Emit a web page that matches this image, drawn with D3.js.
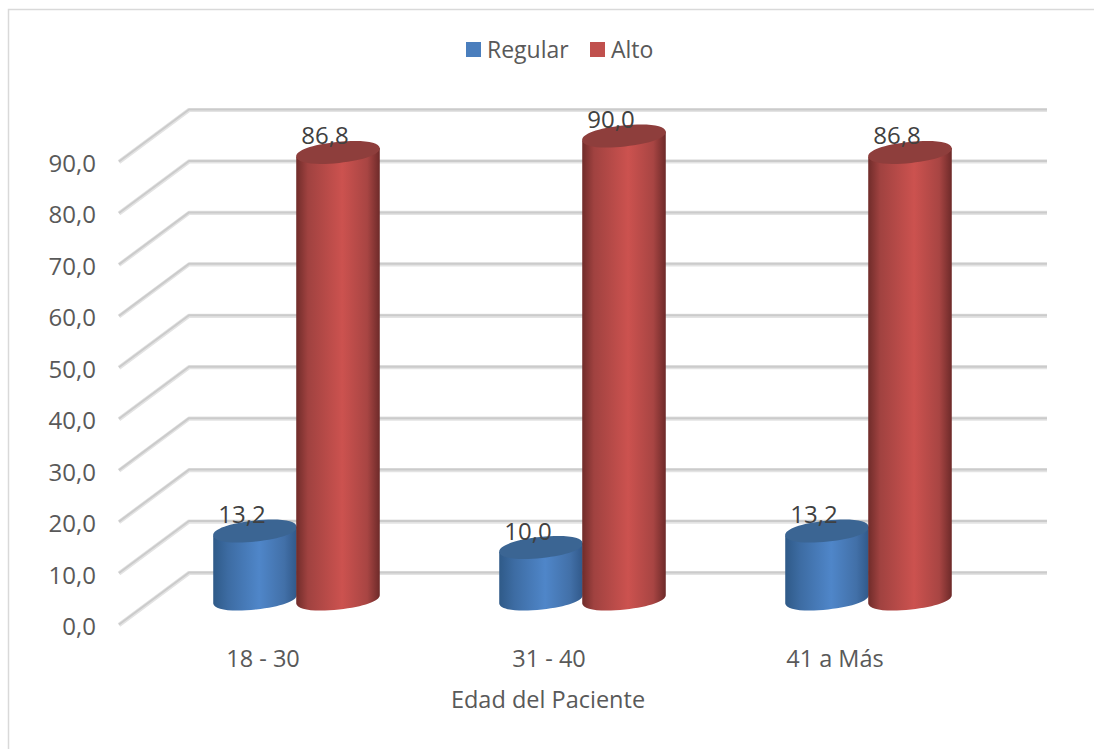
<!DOCTYPE html>
<html lang="es">
<head>
<meta charset="utf-8">
<script src="https://cdn.jsdelivr.net/npm/d3@7/dist/d3.min.js"></script>
<style>
  html, body { margin: 0; padding: 0; background: #fff; }
  svg { display: block; }
  text { font-family: "Open Sans", sans-serif; }
</style>
</head>
<body>
<div id="chart"></div>
<script>
const categories = ["18 - 30", "31 - 40", "41 a Más"];
const seriesNames = ["Regular", "Alto"];
const regularValues = [13.2, 10.0, 13.2];
const altoValues = [86.8, 90.0, 86.8];
const yTicks = [0, 10, 20, 30, 40, 50, 60, 70, 80, 90];
const axisTitle = "Edad del Paciente";

const width = 1094, height = 749;
const comma = v => v.toFixed(1).replace(".", ",");

const svg = d3.select("#chart").append("svg")
  .attr("width", width).attr("height", height);

// Colour ramps that give the columns their rounded look
const ramps = {
  Regular: { top: "#3b6593", key: "#4a7ebd", stops: [[0, "#2f5a88"], [0.18, "#3d6ca3"], [0.55, "#4f86c9"], [0.85, "#4270a8"], [1, "#31598a"]] },
  Alto: { top: "#8e3e3c", key: "#c0504d", stops: [[0, "#702c2a"], [0.14, "#a04240"], [0.55, "#cc524f"], [0.85, "#a84543"], [1, "#6d2a29"]] }
};
const defs = svg.append("defs");
seriesNames.forEach(name => {
  defs.append("linearGradient").attr("id", "shade-" + name)
    .attr("x1", "0").attr("x2", "1").attr("y1", "0").attr("y2", "0")
    .selectAll("stop").data(ramps[name].stops).join("stop")
    .attr("offset", d => d[0]).attr("stop-color", d => d[1]);
});

// Outer frame: only the top and left edges fall inside the page
svg.append("path").attr("d", `M8.5,${height}V9.5H${width}`)
  .attr("fill", "none").attr("stroke", "#d9d9d9").attr("stroke-width", 1.5);

// Scales: y is measured on the front edge of the floor, depth shifts it back
const y = d3.scaleLinear().domain([0, 90]).range([625, 162]);
const depth = { x: 70, y: 52 };
const plotLeft = 119, plotRight = 1047;
const x = d3.scaleBand().domain(categories).range([153.5, 1011.5]);
const xSeries = d3.scaleBand().domain(seriesNames).range([-83, 83]);

// Walls: each gridline runs up the side wall, then along the back wall
const gridPath = v => `M${plotLeft},${y(v)}L${plotLeft + depth.x},${y(v) - depth.y}H${plotRight}`;
const grid = svg.append("g").attr("fill", "none").attr("stroke-linejoin", "round");
grid.selectAll(".halo").data(yTicks).join("path").attr("class", "halo")
  .attr("d", gridPath).attr("stroke", "#e3e3e3").attr("stroke-width", 4.2);
grid.selectAll(".core").data(yTicks).join("path").attr("class", "core")
  .attr("d", gridPath).attr("stroke", "#cbcbcb").attr("stroke-width", 2)
  .attr("transform", "translate(0,-0.5)");

// Value axis labels
svg.append("g").selectAll("text").data(yTicks).join("text")
  .attr("x", 96).attr("y", d => y(d) + 10)
  .attr("text-anchor", "end").attr("font-size", 24).attr("fill", "#595959")
  .text(comma);

// Columns stand halfway between the front edge and the back wall
const floorShift = depth.y / 2;
const rx = xSeries.bandwidth() / 2 + 0.5, ry = 10.5, tilt = -6, round = 0.6;
const rad = tilt * Math.PI / 180;
const dx = rx * Math.cos(rad), dy = rx * Math.sin(rad);
// Point of the column cap, from local cap coordinates to page offsets
const capPoint = (px, py) => [px * Math.cos(rad) - py * Math.sin(rad), px * Math.sin(rad) + py * Math.cos(rad)];
const curve = (cx, cy, pts) => {
  const p = pts.map(([a, b]) => capPoint(a, b)).map(([a, b]) => `${cx + a},${cy + b}`);
  return `C${p[0]} ${p[1]} ${p[2]}`;
};
const frontArc = (cx, cy) =>
  curve(cx, cy, [[-rx, ry * round], [-rx * round, ry], [0, ry]]) +
  curve(cx, cy, [[rx * round, ry], [rx, ry * round], [rx, 0]]);
const backArc = (cx, cy) =>
  curve(cx, cy, [[rx, -ry * round], [rx * round, -ry], [0, -ry]]) +
  curve(cx, cy, [[-rx * round, -ry], [-rx, -ry * round], [-rx, 0]]);

function drawColumn(g, cx, value, name) {
  const yTop = y(value) - floorShift, yBase = y(0) - floorShift;
  g.append("path")
    .attr("d", `M${cx - dx},${yTop - dy}L${cx - dx},${yBase - dy}${frontArc(cx, yBase)}` +
               `L${cx + dx},${yTop + dy}Z`)
    .attr("fill", `url(#shade-${name})`);
  g.append("path")
    .attr("d", `M${cx - dx},${yTop - dy}${frontArc(cx, yTop)}${backArc(cx, yTop)}Z`)
    .attr("fill", ramps[name].top);
  return yTop;
}

const labels = [];
categories.forEach((cat, i) => {
  const g = svg.append("g").attr("class", "category");
  [[seriesNames[0], regularValues[i]], [seriesNames[1], altoValues[i]]].forEach(([name, value]) => {
    const cx = x(cat) + x.bandwidth() / 2 + xSeries(name) + xSeries.bandwidth() / 2;
    const yTop = drawColumn(g, cx, value, name);
    labels.push({ cx: cx - 13, yTop, value });
  });
});

// Value labels sit over the column tops
svg.append("g").selectAll("text").data(labels).join("text")
  .attr("x", d => d.cx).attr("y", d => d.yTop - 8)
  .attr("text-anchor", "middle").attr("font-size", 24).attr("fill", "#404040")
  .text(d => comma(d.value));

// Category labels are centred on the front edge of the floor
svg.append("g").selectAll("text").data(categories).join("text")
  .attr("x", d => x(d) + x.bandwidth() / 2 - 33.5).attr("y", 667)
  .attr("text-anchor", "middle").attr("font-size", 23.5).attr("fill", "#595959")
  .text(d => d);

svg.append("text").attr("x", 548).attr("y", 708)
  .attr("text-anchor", "middle").attr("font-size", 23.5).attr("fill", "#595959")
  .text(axisTitle);

// Legend
const legendX = d3.scaleOrdinal().domain(seriesNames).range([466, 590]);
const legend = svg.append("g").selectAll("g").data(seriesNames).join("g")
  .attr("transform", d => `translate(${legendX(d)},42)`);
legend.append("rect").attr("width", 15).attr("height", 15)
  .attr("fill", d => ramps[d].key);
legend.append("text").attr("x", 21).attr("y", 15.5)
  .attr("font-size", 23).attr("fill", "#595959").text(d => d);
</script>
</body>
</html>
